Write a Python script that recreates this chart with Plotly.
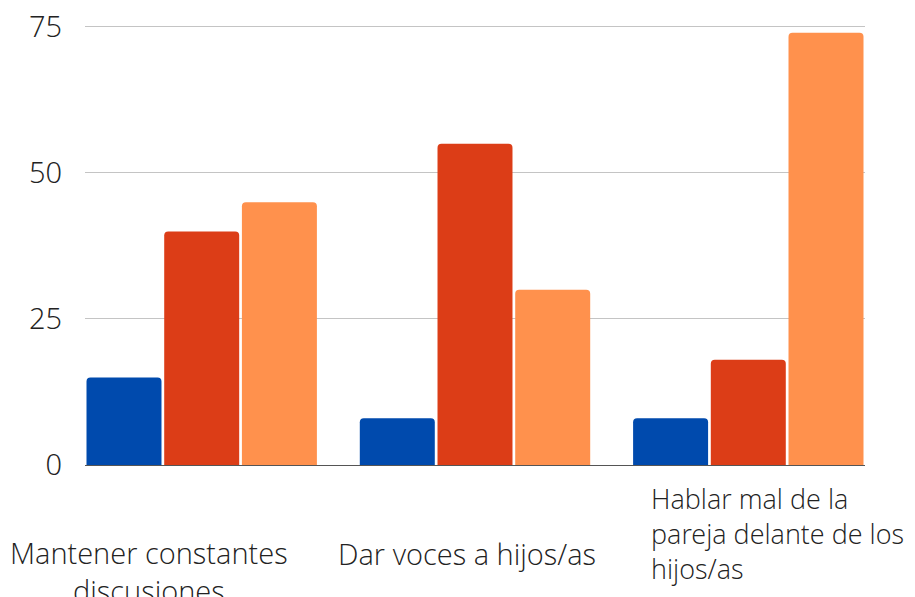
import plotly.graph_objects as go

categories = ["Mantener constantes discusiones", "Dar voces a hijos/as",
              "Hablar mal de la pareja delante de los hijos/as"]
serie_a = [15, 8, 8]
serie_b = [40, 55, 18]
serie_c = [45, 30, 74]
colors = ["#004aad", "#dc3d17", "#ff914d"]
tick_vals = [0, 25, 50, 75]

label_texts = ["Mantener constantes<br>discusiones", "Dar voces a hijos/as",
               "Hablar mal de la<br>pareja delante de los<br>hijos/as"]

FONT = "Open Sans Light, Open Sans"
fig = go.Figure()
for name, vals, col in zip(["A", "B", "C"], [serie_a, serie_b, serie_c], colors):
    fig.add_trace(go.Bar(x=categories, y=vals, name=name, marker_color=col,
                         marker_line_width=0))

fig.update_layout(
    width=915, height=597,
    margin=dict(l=77, r=58, t=16, b=140, autoexpand=False),
    plot_bgcolor="white", paper_bgcolor="white",
    showlegend=False,
    barmode="group", bargap=0.147, bargroupgap=0.035,
    barcornerradius=4,
    font=dict(family=FONT, size=28, color="#222222", weight=300),
)
fig.update_xaxes(range=[-0.427, 2.427], showticklabels=False, showgrid=False,
                 showline=False, zeroline=False, automargin=False)
fig.update_yaxes(range=[0, 75.51], tickvals=tick_vals, showgrid=True,
                 gridcolor="#c4c4c4", gridwidth=1, zeroline=True,
                 zerolinecolor="#555555", zerolinewidth=1, automargin=False,
                 ticklabelstandoff=22, ticklabeloverflow="allow",
                 tickfont=dict(family=FONT, size=29, color="#222222", weight=300))

anns = [
    dict(x=categories[0], xshift=-53, yshift=-106, xanchor="center", align="center", size=29),
    dict(x=categories[1], xshift=-8, yshift=-88, xanchor="center", align="center", size=29),
    dict(x=categories[2], xshift=-99, yshift=-68, xanchor="left", align="left", size=27),
]
for a, t in zip(anns, label_texts):
    sz = a.pop("size")
    fig.add_annotation(text=t, xref="x", yref="paper", y=0, yanchor="middle",
                       showarrow=False,
                       font=dict(family=FONT, size=sz, color="#222222", weight=300),
                       **a)

fig.write_html("out.html")
